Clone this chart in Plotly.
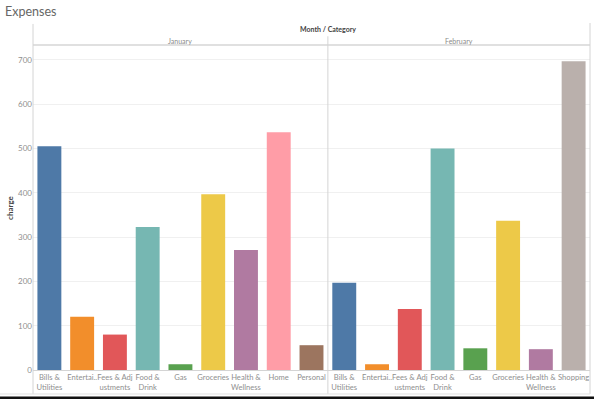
import plotly.graph_objects as go

# ---- data ----
jan_categories = ["Bills & Utilities", "Entertainment", "Fees & Adjustments", "Food & Drink",
                  "Gas", "Groceries", "Health & Wellness", "Home", "Personal"]
jan_values = [505, 120, 80, 323, 13, 397, 271, 537, 56]
feb_categories = ["Bills & Utilities", "Entertainment", "Fees & Adjustments", "Food & Drink",
                  "Gas", "Groceries", "Health & Wellness", "Shopping"]
feb_values = [197, 13, 138, 500, 49, 337, 47, 697]
tick_text = {
    "Bills & Utilities": "Bills &<br>Utilities",
    "Entertainment": "Entertai..",
    "Fees & Adjustments": "Fees & Adj<br>ustments",
    "Food & Drink": "Food &<br>Drink",
    "Gas": "Gas",
    "Groceries": "Groceries",
    "Health & Wellness": "Health &<br>Wellness",
    "Home": "Home",
    "Personal": "Personal",
    "Shopping": "Shopping",
}
months = ["January", "February"]
y_ticks = [0, 100, 200, 300, 400, 500, 600, 700]

colors = {
    "Bills & Utilities": "#4e79a7",
    "Entertainment": "#f28e2b",
    "Fees & Adjustments": "#e15759",
    "Food & Drink": "#76b7b2",
    "Gas": "#59a14f",
    "Groceries": "#edc948",
    "Health & Wellness": "#b07aa1",
    "Home": "#ff9da7",
    "Personal": "#9c755f",
    "Shopping": "#bab0ac",
}

FONT = "Lato, 'Open Sans', sans-serif"
fig = go.Figure()
fig.add_trace(go.Bar(x=jan_categories, y=jan_values, xaxis="x", yaxis="y",
                     marker=dict(color=[colors[c] for c in jan_categories], line=dict(width=0)),
                     showlegend=False))
fig.add_trace(go.Bar(x=feb_categories, y=feb_values, xaxis="x2", yaxis="y",
                     marker=dict(color=[colors[c] for c in feb_categories], line=dict(width=0)),
                     showlegend=False))

split = len(jan_categories) / (len(jan_categories) + len(feb_categories))
xcommon = dict(type="category", showgrid=False, zeroline=False, ticks="",
               showline=True, linecolor="#d4d4d4", linewidth=1, tickangle=0,
               automargin=False,
               tickfont=dict(family=FONT, size=7.6, color="#8f8f8f"), fixedrange=True)
fig.update_layout(
    width=594, height=399,
    margin=dict(l=33, r=4, t=46, b=29),
    paper_bgcolor="white", plot_bgcolor="white",
    bargap=0.27,
    font=dict(family=FONT),
    xaxis=dict(domain=[0, split], tickvals=jan_categories,
               ticktext=[tick_text[c] for c in jan_categories], **xcommon),
    xaxis2=dict(domain=[split, 1], anchor="y", tickvals=feb_categories,
                ticktext=[tick_text[c] for c in feb_categories], **xcommon),
    yaxis=dict(range=[0, 731.5], tickvals=y_ticks, showgrid=True, gridcolor="#f0f0f0",
               gridwidth=1, zeroline=False, showline=False, ticks="", automargin=False,
               fixedrange=True,
               tickfont=dict(family=FONT, size=8, color="#8f8f8f"),
               title=dict(text="<b>charge</b>", font=dict(family=FONT, size=8, color="#444"), standoff=3)),
)

fig.add_annotation(text="Expenses", xref="paper", yref="paper", x=-0.054, y=1.105,
                   xanchor="left", yanchor="middle", showarrow=False,
                   font=dict(family=FONT, size=12.5, color="#666"))
fig.add_annotation(text="<b>Month / Category</b>", xref="paper", yref="paper", x=split, y=1.052,
                   xanchor="center", yanchor="middle", showarrow=False,
                   font=dict(family=FONT, size=7, color="#444"))
for i, m in enumerate(months):
    cx = split / 2 if i == 0 else (split + 1) / 2
    fig.add_annotation(text=m, xref="paper", yref="paper", x=cx, y=1.016,
                       xanchor="center", yanchor="middle", showarrow=False,
                       font=dict(family=FONT, size=7, color="#8a8a8a"))

# frame lines
fig.add_shape(type="line", xref="paper", yref="paper", x0=0, x1=1, y0=1.003, y1=1.003,
              line=dict(color="#e0e0e0", width=2))
fig.add_shape(type="line", xref="paper", yref="paper", x0=0, x1=0, y0=-0.074, y1=1.068,
              line=dict(color="#d4d4d4", width=1))
fig.add_shape(type="line", xref="paper", yref="paper", x0=1, x1=1, y0=-0.074, y1=1.071,
              line=dict(color="#d4d4d4", width=1))
fig.add_shape(type="line", xref="paper", yref="paper", x0=split, x1=split, y0=-0.074, y1=1.03,
              line=dict(color="#d4d4d4", width=1))
fig.add_shape(type="line", xref="paper", yref="paper", x0=-0.06, x1=1, y0=-0.074, y1=-0.074,
              line=dict(color="#e0e0e0", width=1))
# dark screen edge at bottom
fig.add_shape(type="rect", xref="paper", yref="paper", x0=-0.06, x1=1.01, y0=-0.092, y1=-0.082,
              line=dict(width=0), fillcolor="#111")

fig.write_html("out.html", config={"displayModeBar": False},
               post_script="document.body.style.margin='0';window.dispatchEvent(new Event('resize'));")
